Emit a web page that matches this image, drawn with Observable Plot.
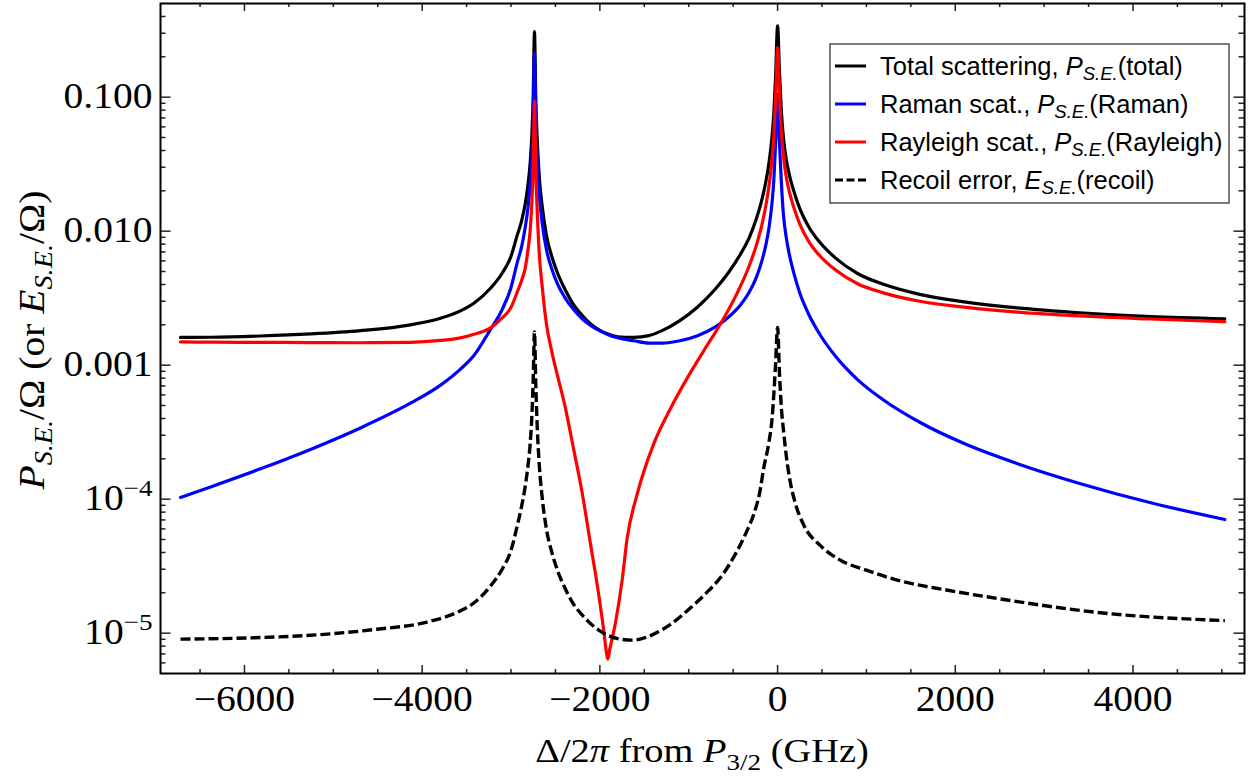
<!DOCTYPE html>
<html><head><meta charset="utf-8">
<script src="https://cdn.jsdelivr.net/npm/d3@7"></script>
<script src="https://cdn.jsdelivr.net/npm/@observablehq/plot@0.6"></script>
<style>
body{margin:0;background:#fff;}
#wrap{position:relative;width:1253px;height:784px;}
</style></head><body><div id="wrap"></div>
<script>
// ---- values (x: detuning from P3/2 in GHz, y: per Omega) ----
const totalX = [-6720,-6382,-5820,-5257,-4695,-4132,-3793,-3569,-3418,-3231,-3100,-3000,-2931,-2880,-2840,-2810,-2785,-2765,-2750,-2736,-2722,-2705,-2680,-2650,-2600,-2540,-2470,-2400,-2300,-2200,-2100,-2000,-1900,-1800,-1618,-1450,-1300,-1100,-900,-700,-550,-420,-320,-240,-180,-130,-95,-65,-42,-22,0,22,42,65,95,130,180,250,350,480,650,900,1200,1600,2100,2700,3400,4200,5034];
const totalY = [1.61e-3,1.615e-3,1.65e-3,1.71e-3,1.81e-3,2.00e-3,2.24e-3,2.54e-3,2.90e-3,3.75e-3,4.85e-3,6.5e-3,9.3e-3,1.2e-2,1.6e-2,2.2e-2,3.2e-2,5.3e-2,0.105,0.309,0.100,4.8e-2,2.45e-2,1.55e-2,9.2e-3,6.45e-3,4.75e-3,3.77e-3,2.86e-3,2.36e-3,2.02e-3,1.82e-3,1.70e-3,1.63e-3,1.61e-3,1.66e-3,1.81e-3,2.15e-3,2.72e-3,3.70e-3,4.94e-3,6.7e-3,8.9e-3,1.23e-2,1.68e-2,2.38e-2,3.3e-2,4.89e-2,7.62e-2,0.147,0.340,0.150,7.95e-2,5.05e-2,3.52e-2,2.68e-2,2.015e-2,1.475e-2,1.08e-2,8.18e-3,6.32e-3,4.83e-3,3.995e-3,3.375e-3,2.97e-3,2.674e-3,2.461e-3,2.304e-3,2.22e-3];

const ramanX = totalX;
const ramanY = [1.03e-4,1.233e-4,1.683e-4,2.35e-4,3.40e-4,5.20e-4,7.10e-4,9.35e-4,1.18e-3,1.85e-3,2.6e-3,3.8e-3,5.8e-3,7.7e-3,1.07e-2,1.48e-2,2.2e-2,3.65e-2,7.3e-2,0.215,7.1e-2,3.4e-2,1.80e-2,1.16e-2,7.2e-3,5.2e-3,3.95e-3,3.25e-3,2.62e-3,2.22e-3,1.97e-3,1.80e-3,1.68e-3,1.60e-3,1.52e-3,1.46e-3,1.46e-3,1.52e-3,1.66e-3,1.93e-3,2.29e-3,2.80e-3,3.5e-3,4.5e-3,5.9e-3,8.0e-3,1.08e-2,1.57e-2,2.42e-2,4.6e-2,0.105,4.5e-2,2.35e-2,1.35e-2,9.2e-3,6.8e-3,4.95e-3,3.45e-3,2.4e-3,1.68e-3,1.17e-3,7.8e-4,5.45e-4,3.75e-4,2.6e-4,1.84e-4,1.31e-4,9.4e-5,7.05e-5];

const rayleighX = [-6720,-6382,-5820,-5257,-4695,-4132,-3793,-3569,-3418,-3231,-3100,-3000,-2931,-2880,-2840,-2810,-2785,-2765,-2750,-2736,-2722,-2705,-2680,-2650,-2600,-2540,-2470,-2400,-2300,-2200,-2100,-2030,-1956,-1930,-1911,-1890,-1824,-1749,-1693,-1580,-1393,-1205,-1017,-831,-643,-455,-320,-240,-180,-130,-95,-65,-42,-22,0,22,42,65,95,130,180,250,350,480,650,900,1200,1600,2100,2700,3400,4200,5034];
const rayleighY = [1.49e-3,1.485e-3,1.48e-3,1.475e-3,1.47e-3,1.48e-3,1.53e-3,1.60e-3,1.70e-3,1.90e-3,2.25e-3,2.7e-3,3.5e-3,4.3e-3,5.3e-3,7.2e-3,1.0e-2,1.65e-2,3.2e-2,0.094,2.9e-2,1.4e-2,6.5e-3,3.9e-3,2.0e-3,1.25e-3,8.0e-4,5.2e-4,2.45e-4,1.12e-4,4.4e-5,2.3e-5,1.04e-5,7.5e-6,6.4e-6,7.5e-6,1.2e-5,2.5e-5,5.1e-5,1.09e-4,2.6e-4,4.75e-4,8.0e-4,1.28e-3,2.03e-3,3.45e-3,5.5e-3,7.8e-3,1.09e-2,1.58e-2,2.22e-2,3.32e-2,5.2e-2,0.101,0.234,0.105,5.6e-2,3.7e-2,2.6e-2,2.0e-2,1.52e-2,1.13e-2,8.4e-3,6.5e-3,5.15e-3,4.05e-3,3.45e-3,3.0e-3,2.71e-3,2.49e-3,2.33e-3,2.21e-3,2.11e-3];

const recoilX = [-6720,-5820,-5069,-4507,-3944,-3569,-3418,-3231,-3100,-3000,-2931,-2880,-2840,-2810,-2785,-2765,-2750,-2736,-2722,-2705,-2680,-2650,-2600,-2540,-2470,-2400,-2300,-2200,-2100,-2000,-1800,-1636,-1393,-1200,-1017,-800,-643,-455,-350,-268,-200,-155,-100,-61,-25,0,22,42,70,100,145,200,295,483,708,1000,1383,1900,2509,3634,5034];
const recoilY = [9.02e-6,9.27e-6,9.84e-6,1.07e-5,1.21e-5,1.47e-5,1.68e-5,2.25e-5,3.0e-5,4.16e-5,6.3e-5,8.9e-5,1.25e-4,1.76e-4,2.56e-4,4.24e-4,7.9e-4,1.77e-3,7.5e-4,3.46e-4,1.72e-4,1.04e-4,5.9e-5,4.0e-5,2.85e-5,2.22e-5,1.66e-5,1.37e-5,1.17e-5,1.04e-5,9.1e-6,8.87e-6,9.84e-6,1.17e-5,1.47e-5,2.0e-5,2.60e-5,4.11e-5,5.7e-5,7.73e-5,1.13e-4,1.72e-4,2.6e-4,4.06e-4,9.5e-4,1.91e-3,8.5e-4,4.9e-4,3.1e-4,2.05e-4,1.32e-4,9.3e-5,6.4e-5,4.5e-5,3.5e-5,2.95e-5,2.45e-5,2.1e-5,1.8e-5,1.42e-5,1.24e-5];

// ---- ticks ----
const xMajor = [-6000,-4000,-2000,0,2000,4000];
const xMinor = [-6500,-5500,-5000,-4500,-3500,-3000,-2500,-1500,-1000,-500,500,1000,1500,2500,3000,3500,4500,5000];
const yMajor = [1e-5,1e-4,1e-3,1e-2,1e-1];
const yMajorLabels = ["10^\u22125","10^\u22124","0.001","0.010","0.100"];
const yMinorMult = [2,3,4,5,6,7,8,9];
const yMinorDecades = [1e-6,1e-5,1e-4,1e-3,1e-2,1e-1];

const legendLabels = [
  ["Total scattering, ", "P", "S.E.", "(total)"],
  ["Raman scat., ", "P", "S.E.", "(Raman)"],
  ["Rayleigh scat., ", "P", "S.E.", "(Rayleigh)"],
  ["Recoil error, ", "E", "S.E.", "(recoil)"]
];
const seriesColors = ["#000000", "#0000ff", "#ff0000", "#000000"];

// ---- build tables ----
const toRows = (xs, ys) => xs.map((x, i) => ({x, y: ys[i]}));
const total = toRows(totalX, totalY);
const raman = toRows(ramanX, ramanY);
const rayleigh = toRows(rayleighX, rayleighY);
const recoil = toRows(recoilX, recoilY);

const yMinor = [];
for (const d of yMinorDecades) for (const m of yMinorMult) { const v = m * d; if (v >= 5e-6 && v < 0.5) yMinor.push(v); }

const fmtX = d => d < 0 ? "\u2212" + Math.abs(d) : String(d);
const yLab = new Map(yMajor.map((v, i) => [v, yMajorLabels[i]]));
const fmtY = d => { for (const [k, s] of yLab) if (Math.abs(k - d) / k < 1e-6) return s; return ""; };

// ---- layout ----
const W = 1253, H = 784, mL = 160, mR = 9, mT = 3, mB = 111;
const xDom = [-6945, 5255], yDom = [5e-6, 0.5];
const unitsPerPx = (xDom[1] - xDom[0]) / (W - mL - mR);
const decPerPx = Math.log10(yDom[1] / yDom[0]) / (H - mT - mB);
const tickColor = "#222", tickW = 1.5;
// inward frame ticks, with lengths given in pixels and drawn through the scales
const ticksBottom = (t, px) => Plot.ruleX(t, {x: d => d, y1: yDom[0], y2: yDom[0] * 10 ** (px * decPerPx), stroke: tickColor, strokeWidth: tickW});
const ticksTop = (t, px) => Plot.ruleX(t, {x: d => d, y1: yDom[1], y2: yDom[1] / 10 ** (px * decPerPx), stroke: tickColor, strokeWidth: tickW});
const ticksLeft = (t, px) => Plot.ruleY(t, {y: d => d, x1: xDom[0], x2: xDom[0] + px * unitsPerPx, stroke: tickColor, strokeWidth: tickW});
const ticksRight = (t, px) => Plot.ruleY(t, {y: d => d, x1: xDom[1], x2: xDom[1] - px * unitsPerPx, stroke: tickColor, strokeWidth: tickW});

const plot = Plot.plot({
  width: W, height: H,
  marginLeft: mL, marginRight: mR, marginTop: mT, marginBottom: mB,
  style: {fontFamily: '"Liberation Serif", "Times New Roman", serif', fontSize: "35px", background: "white", color: "black", overflow: "visible"},
  x: {domain: xDom},
  y: {type: "log", domain: yDom},
  marks: [
    Plot.line(total, {x: "x", y: "y", stroke: seriesColors[0], strokeWidth: 3.2, curve: "monotone-x"}),
    Plot.line(raman, {x: "x", y: "y", stroke: seriesColors[1], strokeWidth: 3.2, curve: "monotone-x"}),
    Plot.line(rayleigh, {x: "x", y: "y", stroke: seriesColors[2], strokeWidth: 3.2, curve: "monotone-x"}),
    Plot.line(recoil, {x: "x", y: "y", stroke: seriesColors[3], strokeWidth: 3.4, strokeDasharray: "10,4", strokeLinecap: "butt", curve: "monotone-x"}),
    ticksBottom(xMajor, 8), ticksBottom(xMinor, 4),
    ticksTop(xMajor, 8), ticksTop(xMinor, 4),
    ticksLeft(yMajor, 10.5), ticksLeft(yMinor, 5.5),
    ticksRight(yMajor, 10.5), ticksRight(yMinor, 5.5),
    Plot.axisX({anchor: "bottom", ticks: xMajor, tickSize: 0, tickPadding: 13, tickFormat: fmtX, label: null}),
    Plot.axisY({anchor: "left", ticks: yMajor, tickSize: 0, tickPadding: 8, tickFormat: fmtY, label: null}),
    Plot.frame({stroke: "#000", strokeWidth: 2})
  ]
});
document.getElementById("wrap").appendChild(plot);

const svg = d3.select(plot);

// ---- typographic post-processing (superscripts, stretch like the reference's Times) ----
const SX = 1.13;
svg.selectAll('g[aria-label="x-axis tick label"] text, g[aria-label="y-axis tick label"] text').each(function () {
  const t = d3.select(this);
  const s = this.textContent;
  if (s === "") return;
  if (s.includes("^")) {
    const [base, exp] = s.split("^");
    this.textContent = "";
    t.append("tspan").text(base);
    t.append("tspan").attr("dy", -14).attr("font-size", "24px").text(exp);
  }
  const tr = t.attr("transform") || "";
  t.attr("transform", tr + ` scale(${SX},1)`);
});

const serif = '"Liberation Serif", "Times New Roman", serif';
// x label
const xl = svg.append("text").attr("transform", `translate(702,762) scale(${SX},1)`)
  .attr("text-anchor", "middle").attr("font-family", serif).attr("font-size", 34).attr("fill", "#000");
xl.append("tspan").text("\u0394/2");
xl.append("tspan").attr("font-style", "italic").text("\u03c0");
xl.append("tspan").text(" from ");
xl.append("tspan").attr("font-style", "italic").text("P");
xl.append("tspan").attr("font-size", 24).attr("dy", 8).text("3/2");
xl.append("tspan").attr("dy", -8).text(" (GHz)");

// y label
const yl = svg.append("text").attr("transform", `translate(44,340) rotate(-90) scale(${SX},1)`)
  .attr("text-anchor", "middle").attr("font-family", serif).attr("font-size", 35).attr("fill", "#000");
yl.append("tspan").attr("font-style", "italic").text("P");
yl.append("tspan").attr("font-style", "italic").attr("font-size", 25).attr("dy", 8).text("S.E.");
yl.append("tspan").attr("dy", -8).text("/\u03a9 (or ");
yl.append("tspan").attr("font-style", "italic").text("E");
yl.append("tspan").attr("font-style", "italic").attr("font-size", 25).attr("dy", 8).text("S.E.");
yl.append("tspan").attr("dy", -8).text("/\u03a9)");

// legend box
const sans = '"Liberation Sans", Arial, sans-serif';
const lg = svg.append("g");
lg.append("rect").attr("x", 830).attr("y", 44).attr("width", 399).attr("height", 159)
  .attr("fill", "white").attr("stroke", "#444").attr("stroke-width", 1.4);
legendLabels.forEach((lab, i) => {
  const by = 75 + i * 38;
  lg.append("line").attr("x1", 835).attr("x2", 866).attr("y1", by - 9).attr("y2", by - 9)
    .attr("stroke", seriesColors[i]).attr("stroke-width", 3)
    .attr("stroke-dasharray", i === 3 ? "8,3.5" : null);
  const tx = lg.append("text").attr("x", 880).attr("y", by).attr("text-anchor", "start")
    .attr("font-family", sans).attr("font-size", 25.5).attr("fill", "#000");
  tx.append("tspan").text(lab[0]);
  tx.append("tspan").attr("font-style", "italic").text(lab[1]);
  tx.append("tspan").attr("font-style", "italic").attr("font-size", 18.5).attr("dy", 5).text(lab[2]);
  tx.append("tspan").attr("dy", -5).text(lab[3]);
});
</script>
</body></html>
